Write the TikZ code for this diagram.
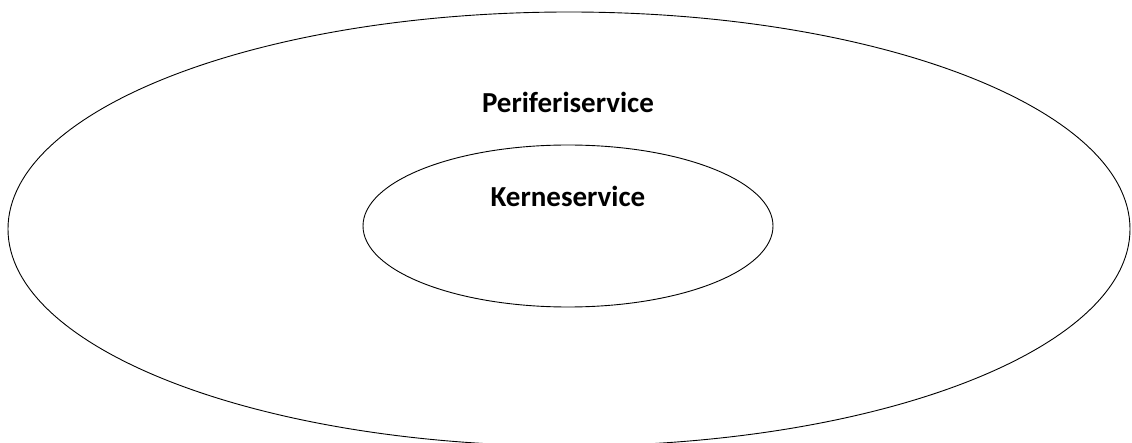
\documentclass[tikz,border=0pt]{standalone}
\usepackage{fontspec}
\setmainfont{Carlito}
\usepackage{tikz}
\usetikzlibrary{calc}

\begin{document}
\begin{tikzpicture}[x=1pt,y=1pt]
    \tikzstyle{label}=[font=\fontsize{29}{33}\selectfont\bfseries,inner sep=0]
    \clip (0,0) rectangle (1132,442);
    \fill[white] (0,0) rectangle (1132,442);
    \draw[line width=0.9pt] (569,213) ellipse (561pt and 217pt);
    \draw[line width=0.9pt] (568,216) ellipse (205pt and 81pt);
    \node[label] (peri) at (568,340) {Periferiservice};
    \node[label] (kerne) at (568,246) {Kerneservice};
\end{tikzpicture}
\end{document}
